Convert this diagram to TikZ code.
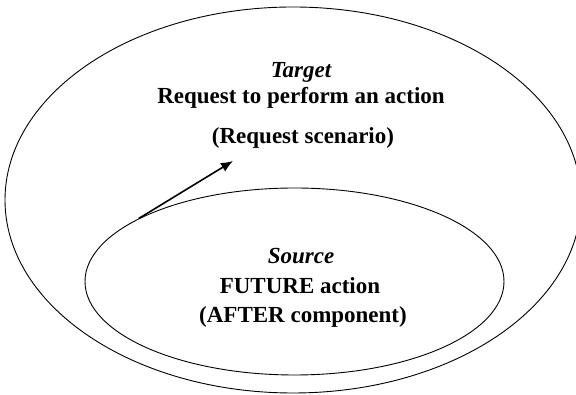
\documentclass[tikz,border=0pt]{standalone}
\usepackage{fontspec}
\setmainfont{Liberation Serif}
\usetikzlibrary{shapes.geometric,arrows.meta}

\begin{document}
\begin{tikzpicture}[x=1pt,y=1pt]
\tikzstyle{area}=[ellipse, draw=black, line width=0.9pt, inner sep=0pt]
\tikzstyle{connect}=[-{Latex[length=12pt,width=10pt]}, line width=1.6pt]
\tikzstyle{txt}=[inner sep=0pt, font=\fontsize{23}{27}\selectfont\bfseries]
\useasboundingbox (0,0) rectangle (576,395);

  \node[area, minimum width=576pt, minimum height=386pt] (target) at (293,195) {};
  \node[area, minimum width=419pt, minimum height=187pt] (source) at (294.5,113.5) {};

  % target domain
  \node[txt] (tname) at (301,323) {\itshape Target};
  \node[txt] (tline1) at (301,297) {Request to perform an action};
  \node[txt] (tline2) at (303,257) {(Request scenario)};

  % source domain
  \node[txt] (sname) at (301,139) {\itshape Source};
  \node[txt] (sline1) at (300,109) {FUTURE action};
  \node[txt] (sline2) at (303,78) {(AFTER component)};

  \coordinate (tip) at (233,234);
  \draw[connect] (source.158.2) -- (tip);
\end{tikzpicture}
\end{document}
